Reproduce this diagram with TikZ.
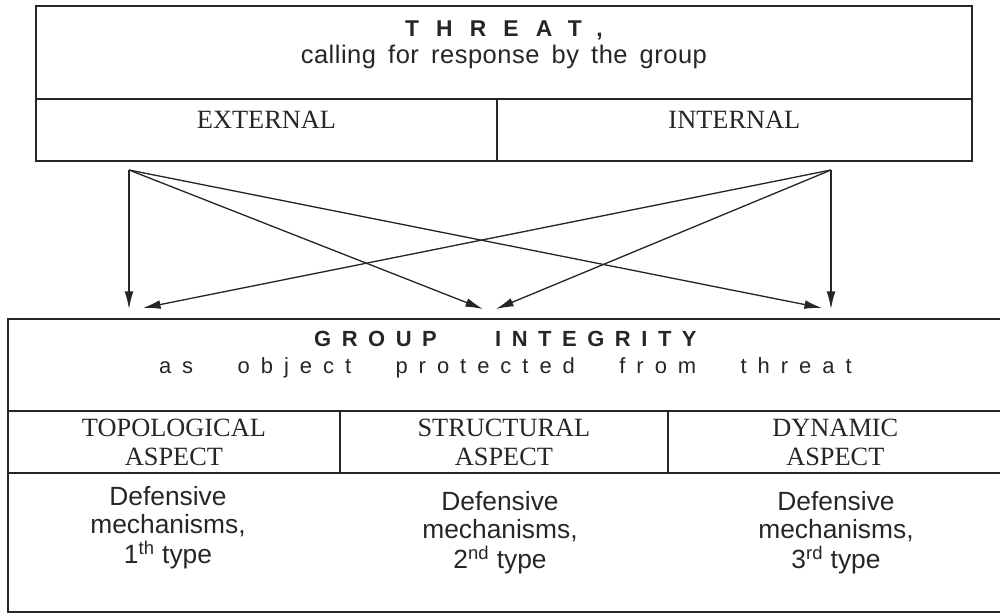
\documentclass[tikz,border=0pt]{standalone}
\usepackage{fontspec}
\setmainfont{Liberation Serif}
\setsansfont{Liberation Sans}
\newfontfamily\threatfont[LetterSpace=75]{Liberation Sans}
\newfontfamily\callfont[LetterSpace=2,WordSpace=1.6]{Liberation Sans}
\newfontfamily\groupfont[LetterSpace=48,WordSpace=3.5]{Liberation Sans}
\newfontfamily\objectfont[LetterSpace=50,WordSpace=2.6]{Liberation Sans}
\usetikzlibrary{arrows.meta, positioning}
\tikzstyle{cell} = [draw=black!85, line width=1.1pt, inner sep=0pt, outer sep=0pt]
\tikzstyle{txt}  = [align=center, inner sep=0pt, text=black!85]
\tikzstyle{arr}  = [draw=black!85, line width=0.75pt, -{Latex[length=10pt, width=5pt]}]

\begin{document}
\begin{tikzpicture}[x=0.02cm, y=-0.02cm]
\useasboundingbox (0,0) rectangle (1000,615);

% threat box
\node [cell, anchor=north west, minimum width=18.72cm, minimum height=1.86cm] at (36,6) (threat) {};
\node [cell, anchor=north west, minimum width=9.22cm, minimum height=1.24cm] at (threat.south west) (external) {};
\node [cell, anchor=north west, minimum width=9.5cm, minimum height=1.24cm] at (external.north east) (internal) {};

\node [txt, font=\fontsize{14.5}{15.2}\selectfont] at ([yshift=0.15cm]threat.center) (threat-t)
  {{\threatfont\bfseries\fontsize{13}{15.2}\selectfont THREAT,}\\ {\callfont calling for response by the group}};
\node [txt, font=\fontsize{15}{17}\selectfont] at ([yshift=0.2cm]external.center) (external-t) {EXTERNAL};
\node [txt, font=\fontsize{15}{17}\selectfont] at ([yshift=0.2cm]internal.center) (internal-t) {INTERNAL};

% group integrity box
\node [cell, anchor=north west, minimum width=19.9cm, minimum height=1.84cm] at (8,319) (integrity) {};
\node [cell, anchor=north west, minimum width=6.64cm, minimum height=1.24cm, txt, font=\fontsize{15}{16.5}\selectfont]
  at (integrity.south west) (topo) {TOPOLOGICAL\\ASPECT};
\node [cell, anchor=north west, minimum width=6.56cm, minimum height=1.24cm, txt, font=\fontsize{15}{16.5}\selectfont]
  at (topo.north east) (struct) {STRUCTURAL\\ASPECT};
\node [cell, anchor=north west, minimum width=6.7cm, minimum height=1.24cm, txt, font=\fontsize{15}{16.5}\selectfont]
  at (struct.north east) (dyn) {DYNAMIC\\ASPECT};
\node [cell, anchor=north west, minimum width=19.9cm, minimum height=2.78cm] at (topo.south west) (mechs) {};

\node [txt, font=\fontsize{12.5}{15.3}\selectfont] at ([yshift=0.2cm]integrity.center) (integrity-t)
  {{\groupfont\bfseries GROUP INTEGRITY}\\ {\objectfont\fontsize{12.5}{15.3}\selectfont as object protected from threat}};

\node [txt, font=\sffamily\fontsize{15}{15.5}\selectfont] at (168,528) (mech1)
  {Defensive\\mechanisms,\\[2pt]1\textsuperscript{th} type};
\node [txt, font=\sffamily\fontsize{15}{15.5}\selectfont] at (500,533) (mech2)
  {Defensive\\mechanisms,\\[2pt]2\textsuperscript{nd} type};
\node [txt, font=\sffamily\fontsize{15}{15.5}\selectfont] at (836,533) (mech3)
  {Defensive\\mechanisms,\\[2pt]3\textsuperscript{rd} type};

% arrow ends
\coordinate (extout)   at (129,170);
\coordinate (intout)   at (831,170);
\coordinate (topo-e)   at (129,309);
\coordinate (topo-i)   at (143,308);
\coordinate (struct-e) at (483,309);
\coordinate (struct-i) at (496,309);
\coordinate (dyn-e)    at (822,308);
\coordinate (dyn-i)    at (831,309);

% arrows
\path
  (extout) edge [arr] (topo-e)
  (extout) edge [arr] (struct-e)
  (extout) edge [arr] (dyn-e)
  (intout) edge [arr] (dyn-i)
  (intout) edge [arr] (struct-i)
  (intout) edge [arr] (topo-i);

\end{tikzpicture}
\end{document}
